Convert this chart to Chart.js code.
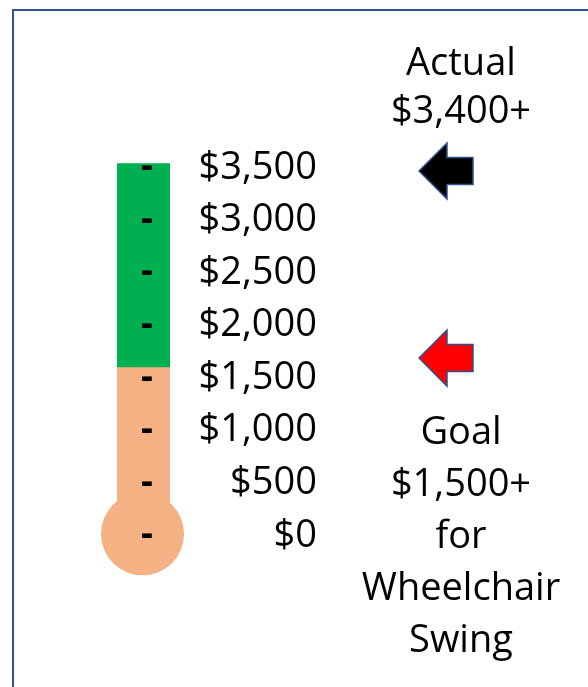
<!DOCTYPE html>
<html>
<head>
<meta charset="utf-8">
<script src="https://cdn.jsdelivr.net/npm/chart.js@4.4.0/dist/chart.umd.min.js"></script>
<style>
  html, body { margin: 0; padding: 0; background: #fff; }
  #wrap { position: relative; width: 588px; height: 687px; overflow: hidden; }
  #frame {
    position: absolute; left: 12px; top: 9px; width: 600px; height: 700px;
    border-left: 2px solid #2F5597; border-top: 2px solid #2F5597;
  }
  .note {
    position: absolute; left: 361px; width: 200px; text-align: center;
    font-family: "Open Sans", sans-serif; font-size: 38px; color: #000;
  }
  #actual { top: 36px; line-height: 48px; }
  #goal { top: 403px; line-height: 52px; }
</style>
</head>
<body>
<div id="wrap">
  <div id="frame"></div>
  <canvas id="thermo"></canvas>
  <div class="note" id="actual">Actual<br>$3,400+</div>
  <div class="note" id="goal">Goal<br>$1,500+<br>for<br>Wheelchair<br>Swing</div>
</div>
<script>
// Fundraising thermometer data
const categories = ["Raised"];
const toGoalValues = [1600];      // orange part
const overGoalValues = [1940];    // green part on top
const tickValues = [0, 500, 1000, 1500, 2000, 2500, 3000, 3500];
const tickLabels = ["$0", "$500", "$1,000", "$1,500", "$2,000", "$2,500", "$3,000", "$3,500"];
const arrowValues = [3470, 1690];  // actual, goal markers
const arrowFills = ["#000000", "#FF0000"];

const ORANGE = "#F4B183";
const GREEN = "#00B050";

function useFixedTicks(axis) {
    axis.ticks = tickValues.map(v => ({ value: v }));
}

// Draws the round bulb at the bottom of the bar
const bulbPlugin = {
    id: "bulb",
    afterDatasetsDraw(chart) {
        const bar = chart.getDatasetMeta(0).data[0];
        const y = chart.scales.y.getPixelForValue(0) - 2;
        const ctx = chart.ctx;
        ctx.save();
        ctx.fillStyle = ORANGE;
        ctx.beginPath();
        ctx.arc(bar.x - 1, y, 41.5, 0, Math.PI * 2);
        ctx.fill();
        ctx.restore();
    }
};

// Left-pointing block arrows placed at the marker values
const arrowPlugin = {
    id: "arrows",
    afterDraw(chart) {
        const ctx = chart.ctx;
        const tipX = 419;
        arrowValues.forEach(function(v, i) {
            const y = chart.scales.y.getPixelForValue(v);
            ctx.save();
            ctx.beginPath();
            ctx.moveTo(tipX, y);
            ctx.lineTo(tipX + 28, y - 28);
            ctx.lineTo(tipX + 28, y - 13.5);
            ctx.lineTo(tipX + 54, y - 13.5);
            ctx.lineTo(tipX + 54, y + 13.5);
            ctx.lineTo(tipX + 28, y + 13.5);
            ctx.lineTo(tipX + 28, y + 28);
            ctx.closePath();
            ctx.fillStyle = arrowFills[i];
            ctx.fill();
            ctx.lineWidth = 1.5;
            ctx.strokeStyle = "#2F528F";
            ctx.stroke();
            ctx.restore();
        });
    }
};

const ctx = document.getElementById("thermo").getContext("2d");
new Chart(ctx, {
    type: "bar",
    data: {
        labels: categories,
        datasets: [
            { data: toGoalValues, backgroundColor: ORANGE, borderWidth: 0 },
            { data: overGoalValues, backgroundColor: GREEN, borderWidth: 0 }
        ]
    },
    options: {
        responsive: true,
        maintainAspectRatio: false,
        animation: false,
        barPercentage: 1,
        categoryPercentage: 1,
        layout: { padding: { left: 117, right: 271, top: 157.3, bottom: 151.2 } },
        plugins: {
            legend: { display: false },
            tooltip: { enabled: false }
        },
        scales: {
            x: { stacked: true, display: false },
            y: {
                stacked: true,
                position: "right",
                min: 0,
                max: 3600,
                afterBuildTicks: useFixedTicks,
                afterFit: function(axis) { axis.width = 147; },
                grid: { display: false, drawTicks: false },
                border: { display: false },
                ticks: {
                    crossAlign: "far",
                    padding: 13,
                    color: "#000",
                    font: { family: "Open Sans", size: 38 },
                    callback: function(value) { return tickLabels[tickValues.indexOf(value)]; }
                }
            },
            yDash: {
                position: "left",
                min: 0,
                max: 3600,
                afterBuildTicks: useFixedTicks,
                afterFit: function(axis) { axis.width = 0; },
                grid: { display: false, drawTicks: false },
                border: { display: false },
                ticks: {
                    mirror: true,
                    padding: 24,
                    z: 1,
                    color: "#000",
                    font: { family: "Open Sans", size: 37, weight: "bold" },
                    callback: function() { return "-"; }
                }
            }
        }
    },
    plugins: [bulbPlugin, arrowPlugin]
});
</script>
</body>
</html>
